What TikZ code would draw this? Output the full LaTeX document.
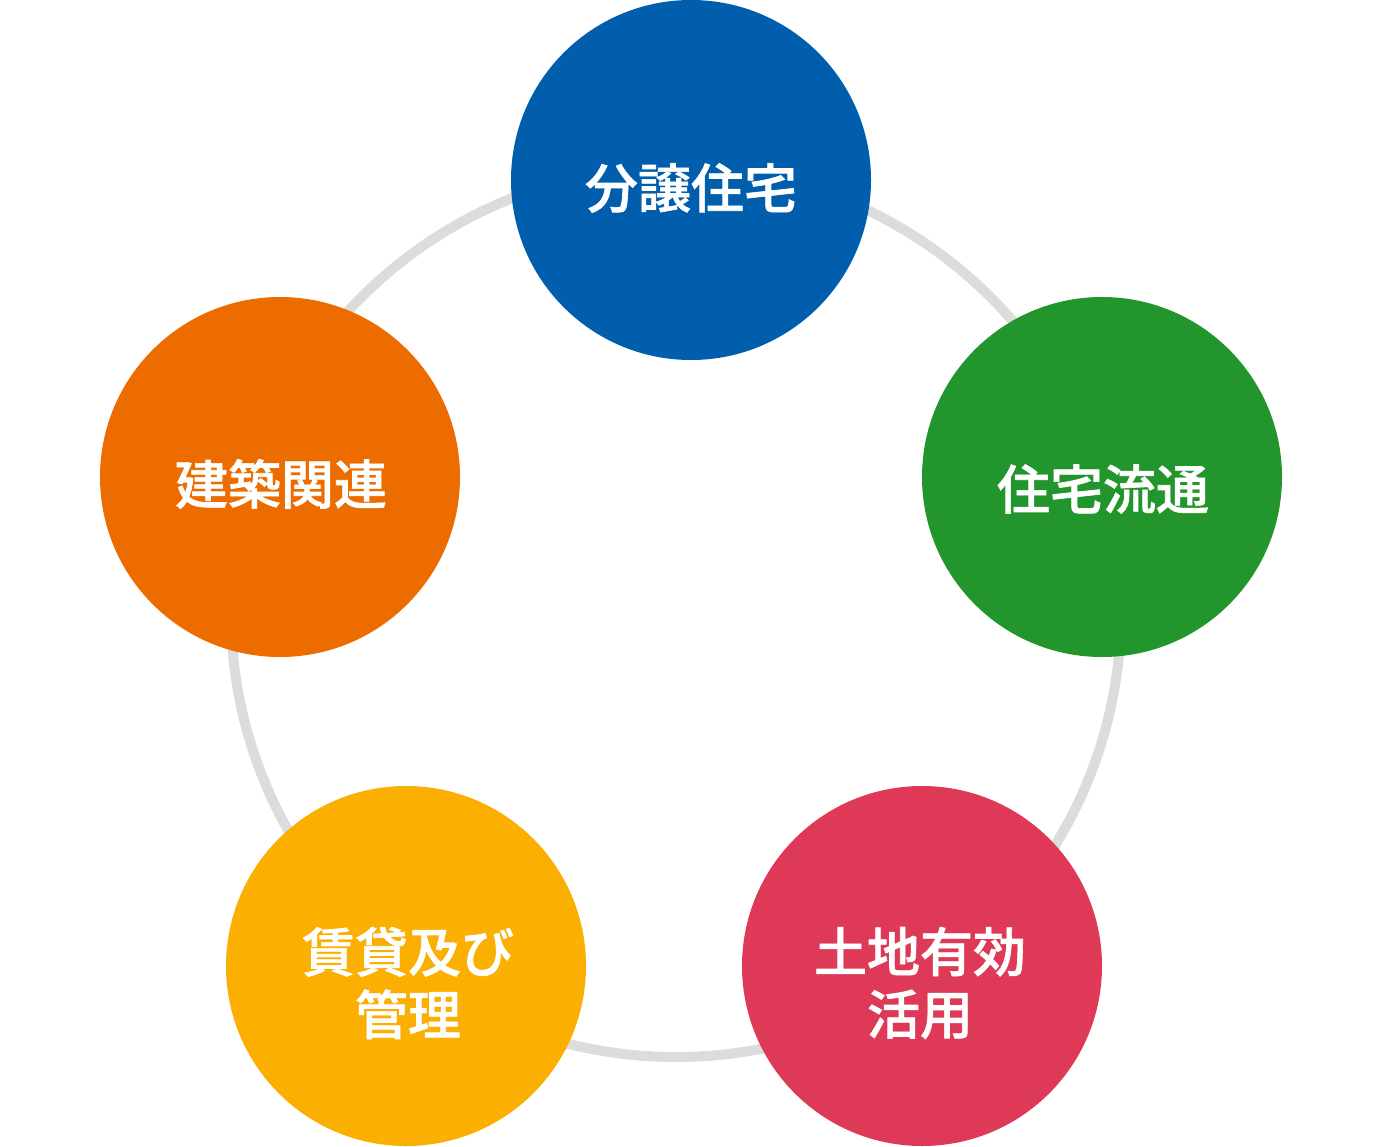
\documentclass[tikz,border=0pt]{standalone}
\usepackage{fontspec}
\newfontfamily\cjk{Noto Sans CJK JP Medium}[FakeBold=1.2]
\definecolor{cblue}{HTML}{005EAD}
\definecolor{cgreen}{HTML}{22962C}
\definecolor{corange}{HTML}{EC6C00}
\definecolor{cyellow}{HTML}{FBAF00}
\definecolor{cred}{HTML}{DE3A58}
\definecolor{cring}{HTML}{DCDCDC}
\begin{document}
\begin{tikzpicture}[x=1pt,y=-1pt,
  ball/.style={circle,minimum size=360pt,inner sep=0pt,fill=#1},
  lbl/.style={inner sep=0pt,text=white,align=center,
    font=\cjk\fontsize{53}{62.5}\selectfont}]
\useasboundingbox (0,0) rectangle (1383,1146);
\node[circle,minimum size=890pt,inner sep=0pt,draw=cring,line width=10pt] (ring) at (676,612) {};
\node[ball=cblue] (a) at (691,180) {};
\node[ball=cgreen] (b) at (1102,477) {};
\node[ball=cred] (c) at (922,966) {};
\node[ball=cyellow] (d) at (406,966) {};
\node[ball=corange] (e) at (280,477) {};
\node[lbl] (ta) at (691,188) {分譲住宅};
\node[lbl] (tb) at (1103,489) {住宅流通};
\node[lbl] (tc) at (920,983) {土地有効\\活用};
\node[lbl] (td) at (408,983) {賃貸及び\\管理};
\node[lbl] (te) at (281,484) {建築関連};
\end{tikzpicture}
\end{document}
